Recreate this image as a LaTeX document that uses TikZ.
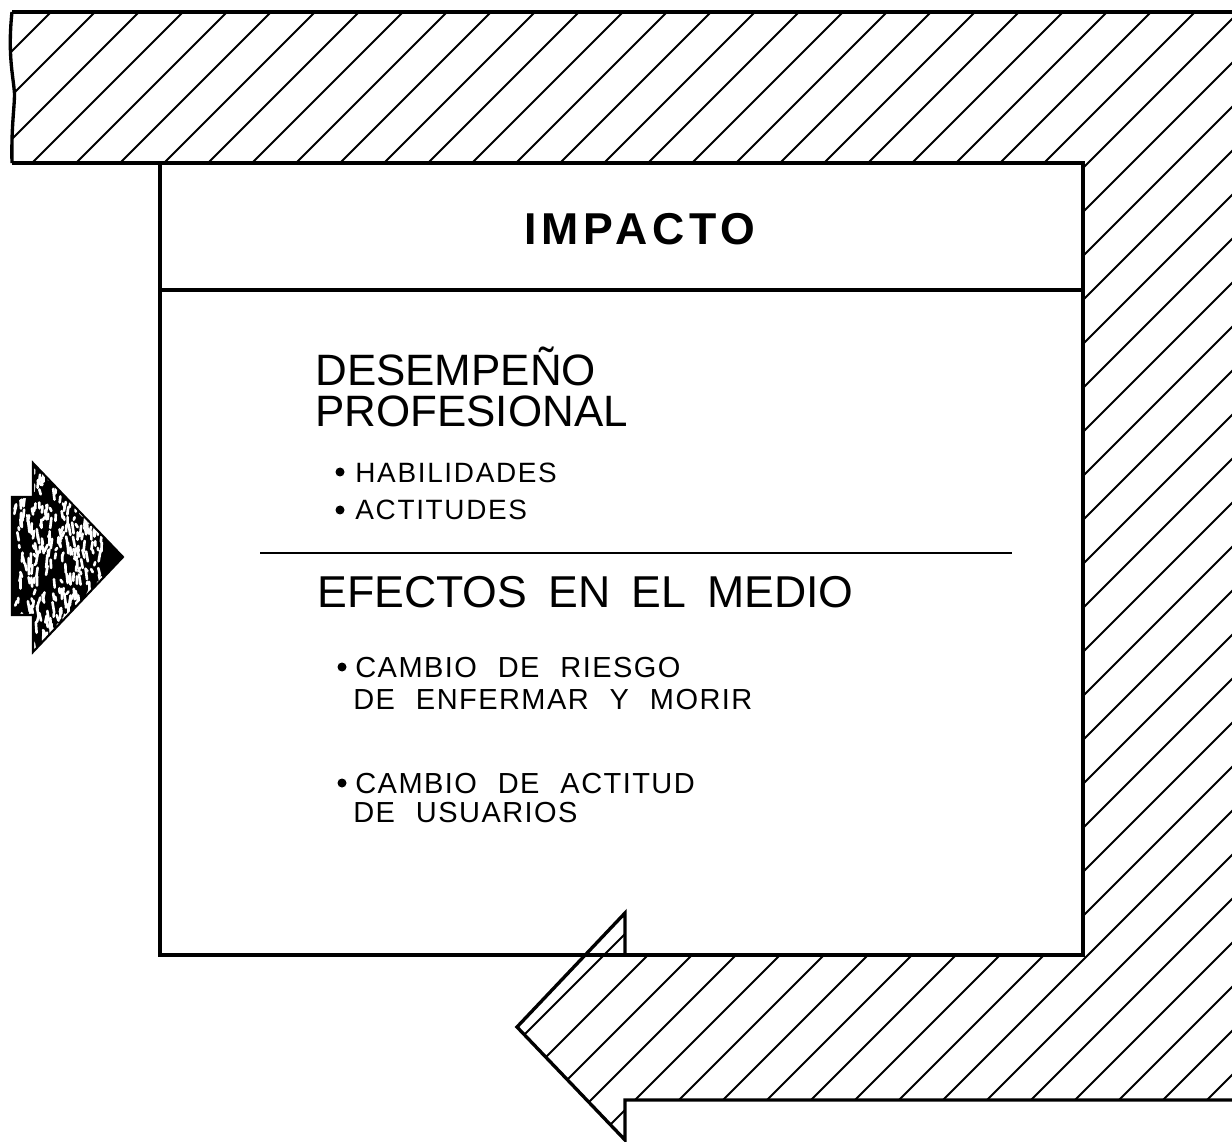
\documentclass[tikz,border=0pt]{standalone}
\usepackage{fontspec}
\setmainfont{Liberation Sans}
\newfontfamily\efefont[WordSpace=1.7]{Liberation Sans}
\newfontfamily\itemfont[LetterSpace=5,WordSpace=2.2]{Liberation Sans}
\newfontfamily\habfont[LetterSpace=6]{Liberation Sans}
\newfontfamily\titlefont[LetterSpace=11]{Liberation Sans}
\begin{document}
\begin{tikzpicture}[x=0.02cm,y=-0.02cm,
  outline/.style={line width=1.9pt,line join=miter},
  hatchline/.style={line width=1.05pt},
  bigtxt/.style={font=\fontsize{25}{28}\selectfont,anchor=base west,inner sep=0pt},
  boldtitle/.style={font=\titlefont\fontsize{25.4}{28}\selectfont\bfseries,anchor=base,inner sep=0pt},
  midtxt/.style={font=\efefont\fontsize{25.4}{28}\selectfont,anchor=base west,inner sep=0pt},
  smalltxt/.style={font=\habfont\fontsize{15.9}{18}\selectfont,anchor=base west,inner sep=0pt},
  itemtxt/.style={font=\itemfont\fontsize{16.5}{18}\selectfont,anchor=base west,inner sep=0pt},
  bulletdot/.style={circle,fill=black,inner sep=0pt,minimum size=9*0.02cm}]
\useasboundingbox (0,0) rectangle (1232,1142);
\fill[white] (0,0) rectangle (1232,1142);
% key coordinates
\coordinate (tl) at (12,12);
\coordinate (tr) at (1232,12);
\coordinate (br) at (1232,1100);
\coordinate (shaftb) at (625,1100);
\coordinate (headb) at (625,1140);
\coordinate (tip) at (517,1027);
\coordinate (headt) at (625,913);
\coordinate (shaftt) at (625,955);
\coordinate (boxbr) at (1083,955);
\coordinate (boxtr) at (1083,163);
\coordinate (boxtl) at (160,163);
\coordinate (bandbl) at (12,163);
% hatching
\begin{scope}
\clip (0,0) rectangle (1232,1142);
\clip (tl) -- (1240,12) -- (1240,1100) -- (shaftb) -- (headb) -- (tip) -- (headt) -- (shaftt) -- (boxbr) -- (boxtr) -- (bandbl)
  .. controls (11,120) and (16,100) .. (14,88) .. controls (12,70) and (8,50) .. (tl) -- cycle;
\foreach \k in {19,63,...,2500} \draw[hatchline] (\k,0) -- (\k-1300,1300);
\end{scope}
% outlines
\draw[outline] (tl) -- (tr);
\draw[outline] (bandbl) -- (boxtl);
\draw[outline] (bandbl) .. controls (11,120) and (16,100) .. (14,88) .. controls (12,70) and (8,50) .. (tl);
\draw[outline] (br) -- (shaftb) -- (headb) -- (tip) -- (headt) -- (shaftt);
\draw[outline] (boxtl) rectangle (boxbr);
\draw[outline] (160,290) -- (1083,290);
\draw[line width=1.2pt] (260,553) -- (1012,553);
% left textured arrow
\begin{scope}
\path[clip] (12,497) -- (33,497) -- (33,463) -- (123,557) -- (33,652) -- (33,615) -- (12,615) -- cycle;
\fill[black] (10,460) rectangle (125,655);
\pgfmathsetseed{17}
\foreach \i in {1,...,380} {
  \pgfmathsetmacro\xx{16+rnd*90}
  \pgfmathsetmacro\yy{468+rnd*180}
  \pgfmathsetmacro\ll{2+rnd*9}
  \draw[white,line width=1.5pt,line cap=round] (\xx,\yy) -- (\xx+rnd*4-2,\yy+\ll);
}
\end{scope}
\draw[line width=1.2pt] (12,497) -- (33,497) -- (33,463) -- (123,557) -- (33,652) -- (33,615) -- (12,615) -- cycle;
% texts
\node[boldtitle] (title) at (640,245) {IMPACTO};
\node[bigtxt] (des1) at (315,386) {DESEMPEÑO};
\node[bigtxt] (des2) at (315,427) {PROFESIONAL};
\node[bulletdot] (b1) at (340,472) {};
\node[smalltxt] (hab) at (355,482) {HABILIDADES};
\node[bulletdot] (b2) at (340,510) {};
\node[smalltxt] (act) at (355,520) {ACTITUDES};
\node[midtxt] (efe) at (317,607) {EFECTOS EN EL MEDIO};
\node[bulletdot] (b3) at (342,667) {};
\node[itemtxt] (c1) at (355,677) {CAMBIO DE RIESGO};
\node[itemtxt] (c2) at (353,709) {DE ENFERMAR Y MORIR};
\node[bulletdot] (b4) at (342,783) {};
\node[itemtxt] (c3) at (355,793) {CAMBIO DE ACTITUD};
\node[itemtxt] (c4) at (353,822) {DE USUARIOS};
\end{tikzpicture}
\end{document}
